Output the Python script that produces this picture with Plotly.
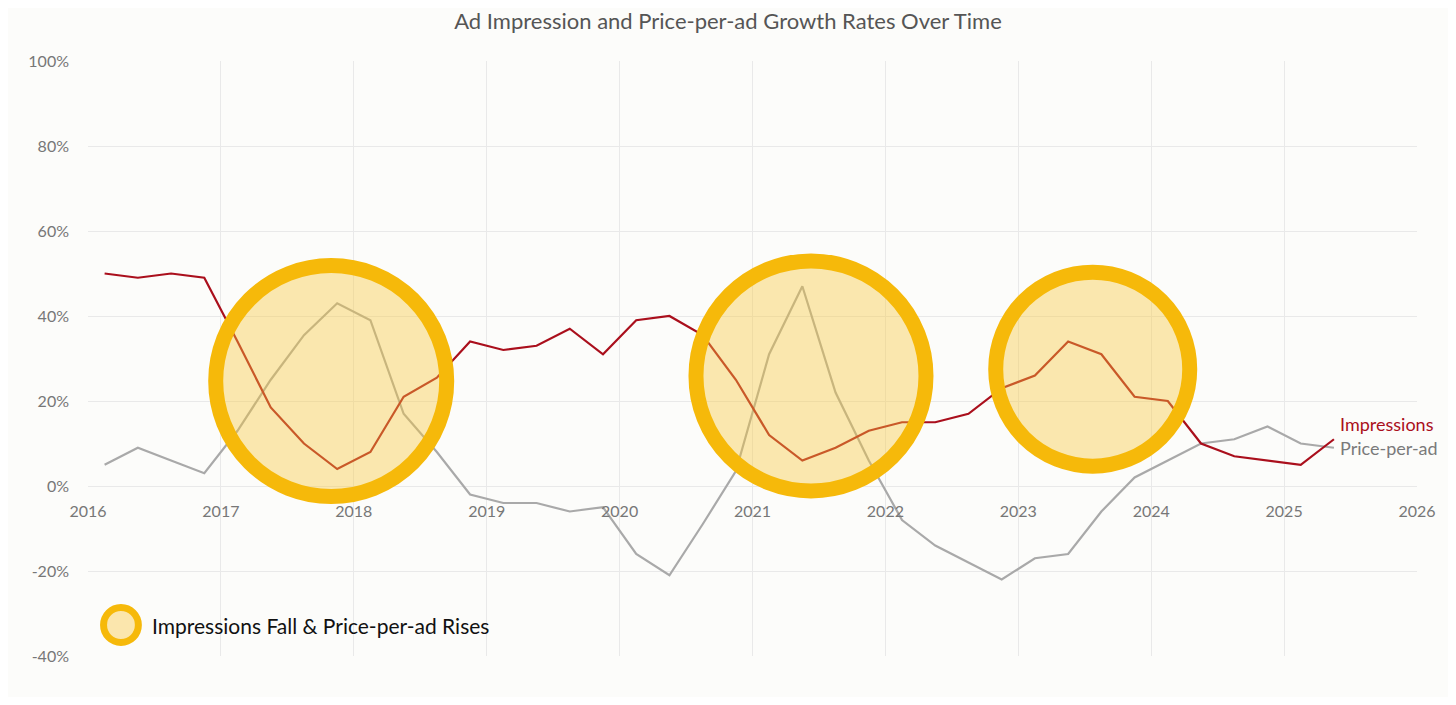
import plotly.graph_objects as go

# quarterly observations (mid-quarter), growth rates in %
quarters = [2016.125 + 0.25 * i for i in range(38)]
impressions = [50, 49, 50, 49, 34, 18.5, 10, 4, 8, 21, 25.5, 34,
               32, 33, 37, 31, 39, 40, 35.5, 25, 12, 6, 9, 13,
               15, 15, 17, 23, 26, 34, 31, 21, 20, 10, 7, 6, 5, 11]
price_per_ad = [5, 9, 6, 3, 13, 25, 35.5, 43, 39, 17, 8, -2,
                -4, -4, -6, -5, -16, -21, -9, 3.5, 31, 47, 22, 6,
                -8, -14, -18, -22, -17, -16, -6, 2, 6, 10, 11, 14, 10, 9]

# periods where impressions fall while price-per-ad rises
highlight_x = [2017.83, 2021.44, 2023.56]
highlight_y = [24.7, 25.9, 27.5]
highlight_d = [231, 230, 194]  # circle diameter in px

year_ticks = list(range(2016, 2027))
pct_ticks = [-40, -20, 0, 20, 40, 60, 80, 100]
y_min, y_max = -40, 100

RED = "#aa0f1c"
GREY = "#a9a9a9"
RING = "#f6b90a"
FILL = "rgba(247,200,60,0.4)"
BG = "#fcfcfa"
FONT = "Lato"

fig = go.Figure()

fig.add_trace(go.Scatter(
    x=quarters, y=price_per_ad, mode="lines",
    line=dict(color=GREY, width=2.2), name="Price-per-ad"))

fig.add_trace(go.Scatter(
    x=quarters, y=impressions, mode="lines",
    line=dict(color=RED, width=2.2), name="Impressions"))

fig.add_trace(go.Scatter(
    x=highlight_x, y=highlight_y, mode="markers",
    marker=dict(size=highlight_d, color=FILL, opacity=1,
                line=dict(color=RING, width=15)),
    name="Impressions Fall & Price-per-ad Rises", hoverinfo="skip"))

# end-of-line labels
fig.add_annotation(x=quarters[-1], y=impressions[-1], text="Impressions",
                   showarrow=False, xanchor="left", xshift=4, yshift=15,
                   font=dict(family=FONT, size=18, color=RED))
fig.add_annotation(x=quarters[-1], y=price_per_ad[-1], text="Price-per-ad",
                   showarrow=False, xanchor="left", xshift=4, yshift=0,
                   font=dict(family=FONT, size=18, color="#7a7a7a"))

# hand-made legend in the lower-left corner
fig.add_shape(type="circle", xref="paper", yref="paper",
              x0=0.0248 - 0.0131, x1=0.0248 + 0.0131,
              y0=0.0521 - 0.0294, y1=0.0521 + 0.0294,
              fillcolor="#fbe6ad", line=dict(color=RING, width=7))
fig.add_annotation(xref="paper", yref="paper", x=0.0465, y=0.0521,
                   text="Impressions Fall & Price-per-ad Rises",
                   showarrow=False, xanchor="left", yanchor="middle",
                   font=dict(family=FONT, size=21, color="#111111"))

# page body has an 8px margin, so the figure is a bit smaller than the window
fig.update_layout(
    width=1440, height=689,
    title=dict(text="Ad Impression and Price-per-ad Growth Rates Over Time",
               x=0.5, xanchor="center", y=0.981, yanchor="middle",
               font=dict(family=FONT, size=22, color="#555555")),
    showlegend=False,
    paper_bgcolor=BG, plot_bgcolor=BG,
    margin=dict(l=80, r=28, t=53, b=41),
    font=dict(family=FONT, size=16, color="#777777"),
    xaxis=dict(range=[2016, 2026], tickvals=year_ticks,
               ticktext=[str(y) for y in year_ticks],
               showgrid=True, gridcolor="#e9e9e9", gridwidth=1,
               zeroline=False, showline=False, ticks="",
               anchor="free", position=(0 - y_min) / (y_max - y_min),
               ticklabelstandoff=14),
    yaxis=dict(range=[y_min, y_max], tickvals=pct_ticks,
               ticktext=[f"{v}%" for v in pct_ticks],
               showgrid=True, gridcolor="#e9e9e9", gridwidth=1,
               zeroline=False, showline=False, ticks="",
               ticklabelstandoff=18),
)

fig.write_html("out.html")
